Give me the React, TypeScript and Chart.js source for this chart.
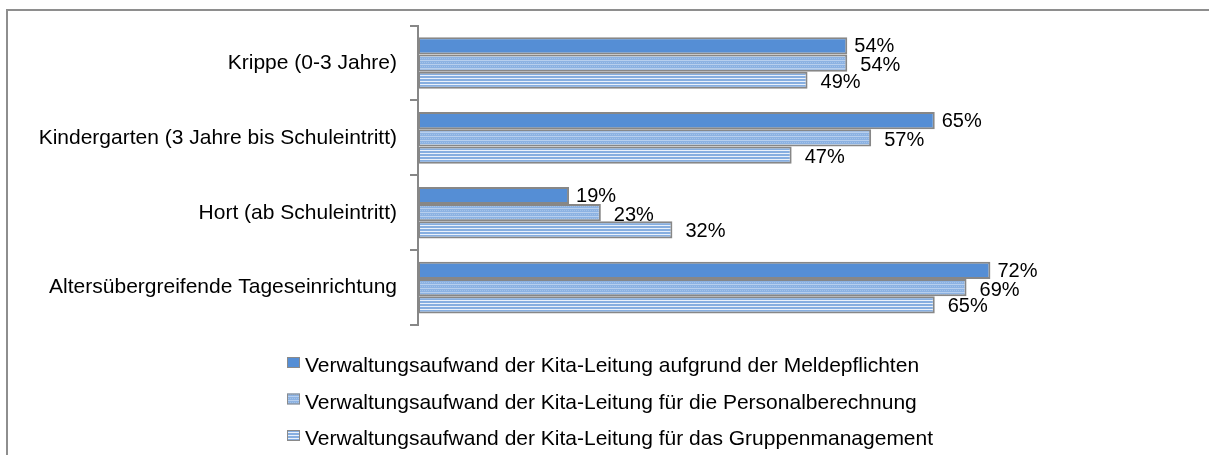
import React, { useEffect, useRef } from "react";
import { Chart, registerables } from "chart.js";

Chart.register(...registerables);

const categories = [
  "Krippe (0-3 Jahre)",
  "Kindergarten (3 Jahre bis Schuleintritt)",
  "Hort (ab Schuleintritt)",
  "Altersübergreifende Tageseinrichtung",
];
const seriesNames = [
  "Verwaltungsaufwand der Kita-Leitung aufgrund der Meldepflichten",
  "Verwaltungsaufwand der Kita-Leitung für die Personalberechnung",
  "Verwaltungsaufwand der Kita-Leitung für das Gruppenmanagement",
];
const meldepflichten = [0.54, 0.65, 0.19, 0.72];
const personalberechnung = [0.54, 0.57, 0.23, 0.69];
const gruppenmanagement = [0.49, 0.47, 0.32, 0.65];
const xMin = 0;
const xMax = 0.8;

const FONT = "'Liberation Sans', Arial, sans-serif";

function makePattern(kind: string): CanvasPattern | string {
  const c = document.createElement("canvas");
  const ctx = c.getContext("2d")!;
  if (kind === "grid") {
    c.width = 4;
    c.height = 4;
    ctx.fillStyle = "#8CB2E2";
    ctx.fillRect(0, 0, 4, 4);
    ctx.fillStyle = "#B7CFEE";
    ctx.fillRect(0, 0, 4, 1);
    ctx.fillStyle = "#A3C2E9";
    ctx.fillRect(0, 2, 1, 1);
    ctx.fillRect(2, 2, 1, 1);
  } else {
    c.width = 4;
    c.height = 3;
    ctx.fillStyle = "#86AEE0";
    ctx.fillRect(0, 0, 4, 3);
    ctx.fillStyle = "#EAF1FA";
    ctx.fillRect(0, 0, 4, 1);
  }
  const p = ctx.createPattern(c, "repeat");
  return p || "#8DB3E2";
}

export default function App() {
  const ref = useRef<HTMLCanvasElement>(null);

  useEffect(() => {
    if (!ref.current) return;
    const fills: any[] = ["#558ED5", makePattern("grid"), makePattern("stripes")];
    const labelDx = [7, 13, 13];
    const labelDy = [1, 2.5, 2];

    const framePlugin = {
      id: "frame",
      beforeDraw(chart: any) {
        const ctx = chart.ctx;
        ctx.save();
        ctx.fillStyle = "#ffffff";
        ctx.fillRect(0, 0, chart.width, chart.height);
        ctx.strokeStyle = "#8E8E8E";
        ctx.lineWidth = 2;
        ctx.beginPath();
        ctx.moveTo(chart.width, 10);
        ctx.lineTo(7, 10);
        ctx.lineTo(7, chart.height);
        ctx.stroke();
        ctx.restore();
      },
    };

    const labelPlugin = {
      id: "valueLabels",
      afterDatasetsDraw(chart: any) {
        const ctx = chart.ctx;
        ctx.save();
        ctx.font = `20px ${FONT}`;
        ctx.fillStyle = "#000000";
        ctx.textAlign = "left";
        ctx.textBaseline = "middle";
        chart.data.datasets.forEach((ds: any, di: number) => {
          const meta = chart.getDatasetMeta(di);
          meta.data.forEach((bar: any, i: number) => {
            const v = ds.data[i];
            ctx.fillText(`${Math.round(v * 100)}%`, bar.x + labelDx[di], bar.y + labelDy[di]);
          });
        });
        ctx.restore();
      },
    };

    const legendPlugin = {
      id: "customLegend",
      afterDraw(chart: any) {
        const ctx = chart.ctx;
        ctx.save();
        ctx.font = `21px ${FONT}`;
        ctx.textAlign = "left";
        ctx.textBaseline = "alphabetic";
        const baselines = [372, 408.5, 445];
        seriesNames.forEach((name, i) => {
          const by = baselines[i];
          ctx.fillStyle = fills[i];
          ctx.fillRect(287, by - 15, 13, 11);
          ctx.strokeStyle = "#8A8A8A";
          ctx.lineWidth = 1;
          ctx.strokeRect(287.5, by - 14.5, 12, 10);
          ctx.fillStyle = "#000000";
          ctx.fillText(name, 305, by);
        });
        ctx.restore();
      },
    };

    const chart = new Chart(ref.current, {
      type: "bar",
      data: {
        labels: categories,
        datasets: [meldepflichten, personalberechnung, gruppenmanagement].map((d, i) => ({
          label: seriesNames[i],
          data: d,
          backgroundColor: fills[i],
          borderColor: "#878787",
          borderWidth: 2,
          borderSkipped: false,
          categoryPercentage: 0.69,
          barPercentage: 1,
        })),
      },
      options: {
        indexAxis: "y",
        animation: false,
        responsive: false,
        layout: { padding: { left: 0, top: 23, right: 155, bottom: 130 } },
        plugins: {
          legend: { display: false },
          tooltip: { enabled: false },
        },
        scales: {
          x: { display: false, min: xMin, max: xMax },
          y: {
            afterFit(scale: any) {
              scale.width = 418;
            },
            grid: {
              display: true,
              drawOnChartArea: false,
              offset: true,
              tickLength: 8,
              color: "#878787",
              lineWidth: 2,
            },
            border: { display: true, color: "#878787", width: 2 },
            ticks: {
              color: "#000000",
              padding: 13,
              font: { family: FONT, size: 21 },
            },
          },
        },
      },
      plugins: [framePlugin, labelPlugin, legendPlugin],
    } as any);

    return () => chart.destroy();
  }, []);

  return (
    <div style={{ position: "fixed", left: 0, top: 0, width: 1209, height: 455 }}>
      <canvas ref={ref} width={1209} height={455} style={{ display: "block" }} />
    </div>
  );
}
